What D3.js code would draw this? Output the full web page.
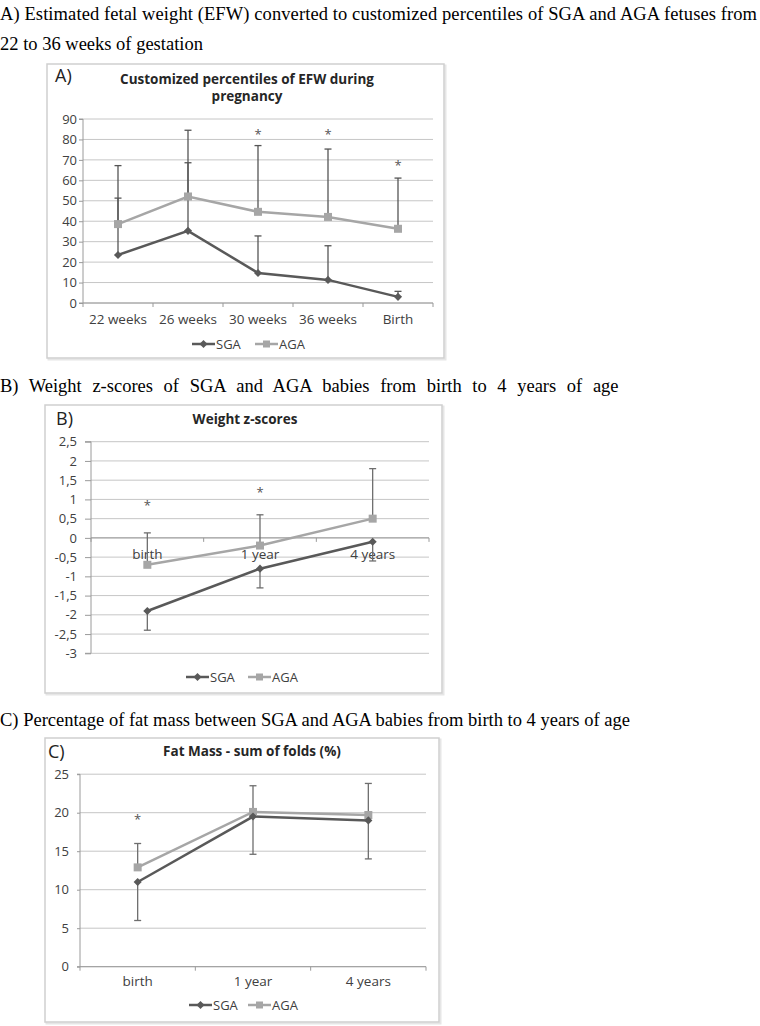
<!DOCTYPE html>
<html><head><meta charset="utf-8">
<script src="https://cdn.jsdelivr.net/npm/d3@7"></script>
<style>body{margin:0;background:#fff}svg{display:block}</style>
</head><body>
<script>
// ---------- DATA ----------
const captionA1 = "A) Estimated fetal weight (EFW) converted to customized percentiles of SGA and AGA fetuses from";
const captionA2 = "22 to 36 weeks of gestation";
const captionB = "B) Weight z-scores of SGA and AGA babies from birth to 4 years of age";
const captionC = "C) Percentage of fat mass between SGA and AGA babies from birth to 4 years of age";

const seriesNames = ["SGA", "AGA"];

const categoriesA = ["22 weeks", "26 weeks", "30 weeks", "36 weeks", "Birth"];
const sgaA = [23.5, 35.3, 14.7, 11.3, 3.0];
const sgaErrA = [27.8, 33.3, 18.1, 16.7, 2.7];      // drawn upward
const agaA = [38.6, 52.1, 44.6, 42.1, 36.3];
const agaErrA = [28.6, 32.4, 32.4, 33.2, 24.8];     // drawn upward
const starA = [null, null, 83.5, 83.5, 68.6];
const ticksA = [0, 10, 20, 30, 40, 50, 60, 70, 80, 90];

const categoriesB = ["birth", "1 year", "4 years"];
const sgaB = [-1.9, -0.8, -0.1];
const sgaErrB = [0.5, 0.5, 0.5];                    // drawn downward
const agaB = [-0.7, -0.2, 0.5];
const agaErrB = [0.83, 0.8, 1.3];                   // drawn upward
const starB = [0.9, 1.25, null];
const ticksB = [-3, -2.5, -2, -1.5, -1, -0.5, 0, 0.5, 1, 1.5, 2, 2.5];

const categoriesC = ["birth", "1 year", "4 years"];
const sgaC = [11.0, 19.5, 19.0];
const sgaErrC = [5.0, 4.9, 5.0];                    // drawn downward
const agaC = [12.9, 20.1, 19.7];
const agaErrC = [3.1, 3.4, 4.1];                    // drawn upward
const starC = [19.5, null, null];
const ticksC = [0, 5, 10, 15, 20, 25];

// ---------- DRAW ----------
const W = 760, H = 1026;
const svg = d3.select("body").append("svg").attr("width", W).attr("height", H);
const serif = "'Liberation Serif','Times New Roman',serif";
const sans = "'Open Sans','Noto Sans',sans-serif";
const SGA_COL = "#595959", AGA_COL = "#a6a6a6", GRID = "#c6c6c6", TXT = "#404040";

function caption(text, x, y, len, ws) {
  const t = svg.append("text").attr("x", x).attr("y", y).attr("font-family", serif)
    .attr("font-size", 18.5).attr("fill", "#000").text(text);
  if (len) t.attr("textLength", len).attr("lengthAdjust", "spacing");
  if (ws) t.attr("word-spacing", ws);
}
caption(captionA1, 0, 20, 757);
caption(captionA2, 0, 50);
caption(captionB, 0, 392, null, 6);
caption(captionC, 0, 726);

const comma = d3.formatLocale({decimal: ",", thousands: ".", grouping: [3], currency: ["", ""], minus: "-"}).format(".2~g");

function drawChart(cfg) {
  const g = svg.append("g");
  // frame
  g.append("rect").attr("x", cfg.frame[0] + 1.5).attr("y", cfg.frame[1] + 1.5)
    .attr("width", cfg.frame[2]).attr("height", cfg.frame[3]).attr("fill", "none")
    .attr("stroke", "#e6e6e6").attr("stroke-width", 2);
  g.append("rect").attr("x", cfg.frame[0]).attr("y", cfg.frame[1])
    .attr("width", cfg.frame[2]).attr("height", cfg.frame[3]).attr("fill", "#fff")
    .attr("stroke", "#cfcfcf").attr("stroke-width", 1.5);

  const x = d3.scaleBand().domain(cfg.cats).range([cfg.left, cfg.right]).padding(0);
  const y = d3.scaleLinear().domain(cfg.domain).range([cfg.bottom, cfg.top]);
  const cx = c => x(c) + x.bandwidth() / 2;

  // gridlines
  g.append("g").selectAll("line").data(cfg.ticks).join("line")
    .attr("x1", cfg.left).attr("x2", cfg.right).attr("y1", d => y(d)).attr("y2", d => y(d))
    .attr("stroke", GRID).attr("stroke-width", 1);
  // y axis
  const ya = g.append("g").attr("transform", `translate(${cfg.left},0)`)
    .call(d3.axisLeft(y).tickValues(cfg.ticks).tickSize(cfg.tick).tickPadding(cfg.gap)
      .tickFormat(cfg.fmt || d3.format("d")));
  ya.select(".domain").attr("stroke", "#9a9a9a").attr("d", `M-${cfg.tick},${cfg.top}H0V${cfg.bottom}H-${cfg.tick}`);
  ya.selectAll(".tick line").attr("stroke", "#9a9a9a");
  ya.selectAll(".tick text").attr("font-family", sans).attr("font-size", 13).attr("fill", TXT);

  // x axis (category) crossing at cfg.cross
  const ax = y(cfg.cross);
  g.append("line").attr("x1", cfg.left).attr("x2", cfg.right).attr("y1", ax).attr("y2", ax)
    .attr("stroke", "#9a9a9a").attr("stroke-width", 1);
  const edges = cfg.cats.map(c => x(c)).concat([cfg.right]);
  g.append("g").selectAll("line").data(edges).join("line")
    .attr("x1", d => d).attr("x2", d => d).attr("y1", ax).attr("y2", ax + 4)
    .attr("stroke", "#9a9a9a");
  const xa = g.append("g").attr("transform", `translate(0,${cfg.labelY})`)
    .call(d3.axisBottom(x).tickSize(0).tickPadding(0));
  xa.select(".domain").remove();
  xa.selectAll(".tick text").attr("font-family", sans).attr("font-size", 13.5).attr("fill", TXT)
    .attr("dy", 0);

  // error bars
  function errBars(vals, errs, dir, col) {
    const eg = g.append("g");
    cfg.cats.forEach((c, i) => {
      const y0 = y(vals[i]), y1 = y(vals[i] + dir * errs[i]);
      eg.append("line").attr("x1", cx(c)).attr("x2", cx(c)).attr("y1", y0).attr("y2", y1)
        .attr("stroke", col).attr("stroke-width", 1.3);
      eg.append("line").attr("x1", cx(c) - 3.5).attr("x2", cx(c) + 3.5).attr("y1", y1).attr("y2", y1)
        .attr("stroke", col).attr("stroke-width", 1.3);
    });
  }
  errBars(cfg.sga, cfg.sgaErr, cfg.sgaDir, cfg.errCol);
  errBars(cfg.aga, cfg.agaErr, 1, cfg.errCol);

  const line = d3.line().x((d, i) => cx(cfg.cats[i])).y(d => y(d));
  g.append("path").datum(cfg.aga).attr("d", line).attr("fill", "none")
    .attr("stroke", AGA_COL).attr("stroke-width", 2.5);
  g.append("path").datum(cfg.sga).attr("d", line).attr("fill", "none")
    .attr("stroke", SGA_COL).attr("stroke-width", 2.5);
  g.append("g").selectAll("rect").data(cfg.aga).join("rect")
    .attr("x", (d, i) => cx(cfg.cats[i]) - 4).attr("y", d => y(d) - 4)
    .attr("width", 8).attr("height", 8).attr("fill", AGA_COL);
  const dia = d3.symbol().type(d3.symbolDiamond2).size(42);
  g.append("g").selectAll("path").data(cfg.sga).join("path")
    .attr("transform", (d, i) => `translate(${cx(cfg.cats[i])},${y(d)})`)
    .attr("d", dia).attr("fill", SGA_COL);

  // asterisks
  const stars = cfg.star.map((v, i) => ({v, c: cfg.cats[i]})).filter(d => d.v != null);
  g.append("g").selectAll("text").data(stars).join("text")
    .attr("x", d => cx(d.c)).attr("y", d => y(d.v) + 7).attr("text-anchor", "middle")
    .attr("font-family", sans).attr("font-size", 13).attr("fill", "#555").text("*");

  // title
  cfg.title.forEach((t, i) => {
    g.append("text").attr("x", cfg.titleX).attr("y", cfg.titleY + i * 17).attr("text-anchor", "middle")
      .attr("font-family", sans).attr("font-weight", "bold").attr("font-size", 13.5).attr("fill", "#262626").text(t);
  });
  g.append("text").attr("x", cfg.tagX).attr("y", cfg.tagY).attr("font-family", sans)
    .attr("font-size", 18).attr("fill", "#222").text(cfg.tag);

  // legend
  const lg = g.append("g").attr("transform", `translate(0,${cfg.legY})`);
  const items = [{n: seriesNames[0], col: SGA_COL, x: cfg.legX[0], sq: false},
                 {n: seriesNames[1], col: AGA_COL, x: cfg.legX[1], sq: true}];
  items.forEach(it => {
    lg.append("line").attr("x1", it.x).attr("x2", it.x + 23).attr("y1", 0).attr("y2", 0)
      .attr("stroke", it.col).attr("stroke-width", 2.5);
    if (it.sq) lg.append("rect").attr("x", it.x + 8).attr("y", -3.5).attr("width", 7).attr("height", 7).attr("fill", it.col);
    else lg.append("path").attr("transform", `translate(${it.x + 11.5},0)`).attr("d", dia).attr("fill", it.col);
    lg.append("text").attr("x", it.x + 24).attr("y", 4.5).attr("font-family", sans)
      .attr("font-size", 13).attr("fill", TXT).text(it.n);
  });
}

drawChart({
  frame: [47, 64, 397, 294], left: 83, right: 433, top: 119, bottom: 303,
  domain: [0, 90], ticks: ticksA, cross: 0, labelY: 324, tick: 4, gap: 2,
  cats: categoriesA, sga: sgaA, sgaErr: sgaErrA, sgaDir: 1, aga: agaA, agaErr: agaErrA,
  star: starA, errCol: "#555",
  title: ["Customized percentiles of EFW during", "pregnancy"], titleX: 247, titleY: 84,
  tag: "A)", tagX: 55, tagY: 82, legY: 344, legX: [192, 255]
});
drawChart({
  frame: [45, 405, 397, 288], left: 91, right: 429, top: 441.7, bottom: 653.3,
  domain: [-3, 2.5], ticks: ticksB, cross: 0, labelY: 559, tick: 6, gap: 8, fmt: comma,
  cats: categoriesB, sga: sgaB, sgaErr: sgaErrB, sgaDir: -1, aga: agaB, agaErr: agaErrB,
  star: starB, errCol: "#6e6e6e",
  title: ["Weight z-scores"], titleX: 245, titleY: 424,
  tag: "B)", tagX: 56, tagY: 425, legY: 677, legX: [186, 248]
});
drawChart({
  frame: [45, 738, 394, 284], left: 80, right: 426, top: 774.2, bottom: 966.7,
  domain: [0, 25], ticks: ticksC, cross: 0, labelY: 986, tick: 3, gap: 8,
  cats: categoriesC, sga: sgaC, sgaErr: sgaErrC, sgaDir: -1, aga: agaC, agaErr: agaErrC,
  star: starC, errCol: "#6e6e6e",
  title: ["Fat Mass - sum of folds (%)"], titleX: 252, titleY: 756,
  tag: "C)", tagX: 48, tagY: 758, legY: 1005, legX: [189, 248]
});
</script>
</body></html>
